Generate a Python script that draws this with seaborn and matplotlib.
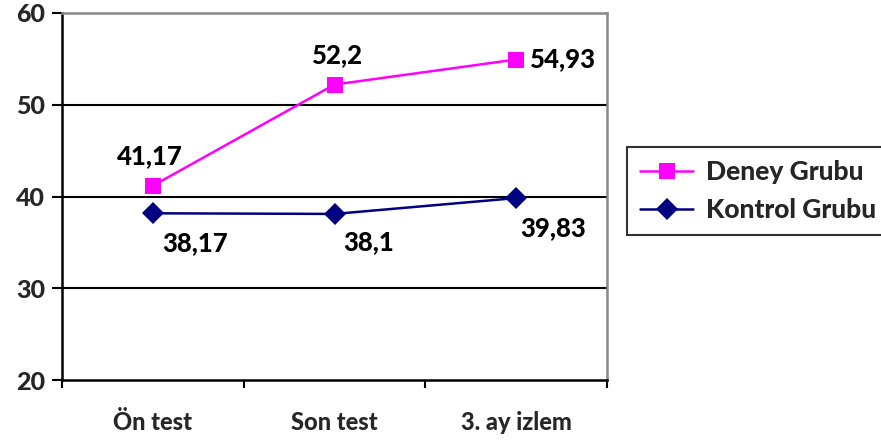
import matplotlib
matplotlib.use("Agg")
import matplotlib.pyplot as plt
import seaborn as sns
import pandas as pd

categories = ["Ön test", "Son test", "3. ay izlem"]
deney = [41.17, 52.2, 54.93]
kontrol = [38.17, 38.1, 39.83]
series_names = ["Deney Grubu", "Kontrol Grubu"]

sns.set_style("white")
plt.rcParams["font.family"] = ["Lato", "DejaVu Sans"]
W = 900
plt.rcParams["font.weight"] = W

df = pd.DataFrame({
    "x": list(range(len(categories))) * 2,
    "value": deney + kontrol,
    "group": [series_names[0]] * 3 + [series_names[1]] * 3,
})

fig = plt.figure(figsize=(8.81, 4.45), dpi=100)
ax = fig.add_axes([62 / 881, 1 - 380 / 445, (607 - 62) / 881, (380 - 13) / 445])

palette = {series_names[0]: "#FF00FF", series_names[1]: "#000080"}
markers = {series_names[0]: "s", series_names[1]: "D"}
sns.lineplot(data=df, x="x", y="value", hue="group", style="group",
             palette=palette, markers=markers, dashes=False, markersize=11,
             markeredgewidth=0, linewidth=1.8, ax=ax, legend=True)

ax.set_xlim(-0.5, 2.5)
ax.set_ylim(20, 60)
ax.set_yticks([20, 30, 40, 50, 60])
ax.set_xticks([-0.5, 0.5, 1.5, 2.5])
ax.set_xticklabels([])
ax.set_xticks(range(3), minor=True)
ax.set_xticklabels(categories, minor=True)
ax.tick_params(axis="x", which="minor", length=0, pad=22, labelsize=17)
ax.tick_params(axis="x", which="major", direction="out", length=6, width=1.5,
               color="black", bottom=True)
ax.tick_params(axis="y", direction="out", length=7, width=1.5, color="black",
               left=True, labelsize=18, pad=5)
for t in ax.get_xticklabels(minor=True) + ax.get_yticklabels():
    t.set_fontweight(W)
ax.set_xlabel("")
ax.set_ylabel("")

for y in [30, 40, 50]:
    ax.axhline(y, color="black", linewidth=1.5, zorder=0)

for side in ["left", "bottom"]:
    ax.spines[side].set_color("black")
    ax.spines[side].set_linewidth(1.8)
for side in ["top", "right"]:
    ax.spines[side].set_color("#888888")
    ax.spines[side].set_linewidth(1.8)

fmt = lambda v: f"{v:g}".replace(".", ",")
lab_kw = dict(fontsize=18.5, fontweight=W, color="black")
# value labels for the treatment group
ax.annotate(fmt(deney[0]), (0, deney[0]), xytext=(-3, 30), textcoords="offset pixels",
            ha="center", va="center", **lab_kw)
ax.annotate(fmt(deney[1]), (1, deney[1]), xytext=(3, 29), textcoords="offset pixels",
            ha="center", va="center", **lab_kw)
ax.annotate(fmt(deney[2]), (2, deney[2]), xytext=(14, 0), textcoords="offset pixels",
            ha="left", va="center", **lab_kw)
# value labels for the control group
ax.annotate(fmt(kontrol[0]), (0, kontrol[0]), xytext=(42, -30), textcoords="offset pixels",
            ha="center", va="center", **lab_kw)
ax.annotate(fmt(kontrol[1]), (1, kontrol[1]), xytext=(34, -28), textcoords="offset pixels",
            ha="center", va="center", **lab_kw)
ax.annotate(fmt(kontrol[2]), (2, kontrol[2]), xytext=(37, -30), textcoords="offset pixels",
            ha="center", va="center", **lab_kw)

handles, labels = ax.get_legend_handles_labels()
leg = ax.legend(handles, labels, loc="center left", bbox_to_anchor=(627 / 881, 1 - 191 / 445),
                bbox_transform=fig.transFigure, frameon=True, fancybox=False,
                edgecolor="black", fontsize=19, handlelength=2.0, borderpad=0.5,
                labelspacing=0.55, handletextpad=0.5, borderaxespad=0)
leg.get_frame().set_linewidth(1.5)
for t in leg.get_texts():
    t.set_fontweight(W)

fig.savefig("out.png", dpi=100)
